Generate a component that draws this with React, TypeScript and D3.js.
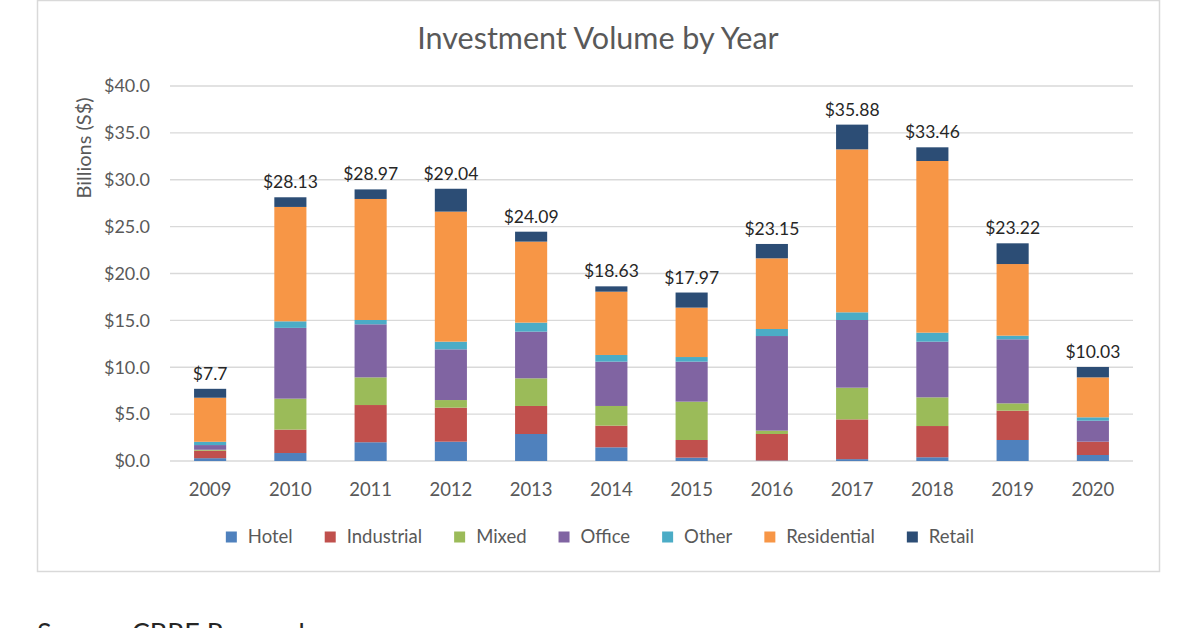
import React, { useEffect, useRef } from "react";
import * as d3 from "d3";

const years = ["2009","2010","2011","2012","2013","2014","2015","2016","2017","2018","2019","2020"];
const seriesNames = ["Hotel","Industrial","Mixed","Office","Other","Residential","Retail"];
const seriesColors = ["#4F81BD","#C0504D","#9BBB59","#8064A2","#4BACC6","#F79646","#2C4D75"];
const hotel =       [0.30, 0.85, 2.00, 2.06, 2.88, 1.46, 0.36, 0.05, 0.20, 0.40, 2.24, 0.64];
const industrial =  [0.80, 2.50, 3.97, 3.63, 2.99, 2.31, 1.88, 2.83, 4.24, 3.33, 3.13, 1.42];
const mixed =       [0.10, 3.30, 2.95, 0.81, 2.95, 2.10, 4.09, 0.36, 3.38, 3.06, 0.78, 0.00];
const office =      [0.50, 7.55, 5.66, 5.41, 4.98, 4.73, 4.27,10.09, 7.22, 5.94, 6.83, 2.24];
const other =       [0.35, 0.70, 0.46, 0.82, 0.96, 0.71, 0.49, 0.75, 0.82, 0.96, 0.39, 0.36];
const residential = [4.70,12.20,12.91,13.87, 8.64, 6.75, 5.27, 7.54,17.38,18.31, 7.64, 4.26];
const retail =      [0.95, 1.03, 1.02, 2.44, 1.06, 0.57, 1.61, 1.53, 2.64, 1.46, 2.21, 1.11];
const totalLabels = ["$7.7","$28.13","$28.97","$29.04","$24.09","$18.63","$17.97","$23.15","$35.88","$33.46","$23.22","$10.03"];
const yTicks = [0, 5, 10, 15, 20, 25, 30, 35, 40];

const FONT = "Lato, 'Open Sans', sans-serif";

export default function App() {
  const ref = useRef<SVGSVGElement>(null);
  useEffect(() => {
    const svg = d3.select(ref.current);
    svg.selectAll("*").remove();
    const m = { left: 170, right: 1133, top: 86, bottom: 461 };

    // card
    svg.append("rect").attr("x", 37.5).attr("y", 0.5).attr("width", 1122).attr("height", 571)
      .attr("fill", "#fff").attr("stroke", "#d9d9d9").attr("stroke-width", 1.5);

    const table = years.map((y, i) => {
      const row: any = { year: y };
      const cols = [hotel, industrial, mixed, office, other, residential, retail];
      seriesNames.forEach((s, k) => (row[s] = cols[k][i]));
      return row;
    });
    const stacked = d3.stack().keys(seriesNames)(table);

    const x = d3.scaleBand().domain(years).range([m.left, m.right]).paddingInner(0.6).paddingOuter(0.3);
    const y = d3.scaleLinear().domain([0, 40]).range([m.bottom, m.top]);

    // gridlines
    svg.append("g").selectAll("line").data(yTicks).join("line")
      .attr("x1", m.left).attr("x2", m.right)
      .attr("y1", d => y(d)).attr("y2", d => y(d))
      .attr("stroke", "#d9d9d9").attr("stroke-width", 1.3);

    // y tick labels
    svg.append("g").selectAll("text").data(yTicks).join("text")
      .attr("x", 150).attr("y", d => y(d)).attr("dy", "0.35em")
      .attr("text-anchor", "end").attr("font-family", FONT).attr("font-size", 18)
      .attr("fill", "#595959").text(d => "$" + d.toFixed(1));

    // bars
    const g = svg.append("g");
    stacked.forEach((layer, k) => {
      g.append("g").attr("fill", seriesColors[k]).selectAll("rect").data(layer).join("rect")
        .attr("x", (d: any) => x(d.data.year)!)
        .attr("width", x.bandwidth())
        .attr("y", (d: any) => y(d[1]))
        .attr("height", (d: any) => Math.max(0, y(d[0]) - y(d[1])));
    });

    // total labels
    const top = stacked[stacked.length - 1];
    svg.append("g").selectAll("text").data(top).join("text")
      .attr("x", (d: any) => x(d.data.year)! + x.bandwidth() / 2)
      .attr("y", (d: any) => y(d[1]) - 9)
      .attr("text-anchor", "middle").attr("font-family", FONT).attr("font-size", 17.5)
      .attr("fill", "#262626").text((d, i) => totalLabels[i]);

    // x labels
    svg.append("g").selectAll("text").data(years).join("text")
      .attr("x", d => x(d)! + x.bandwidth() / 2).attr("y", 496)
      .attr("text-anchor", "middle").attr("font-family", FONT).attr("font-size", 18.5)
      .attr("fill", "#595959").text(d => d);

    // y axis title
    svg.append("text").attr("transform", `translate(91,148) rotate(-90)`)
      .attr("text-anchor", "middle").attr("font-family", FONT).attr("font-size", 20)
      .attr("fill", "#595959").text("Billions (S$)");

    // title
    svg.append("text").attr("x", 598).attr("y", 49).attr("text-anchor", "middle")
      .attr("font-family", FONT).attr("font-size", 30.5).attr("fill", "#595959")
      .text("Investment Volume by Year");

    // legend
    const LF = 18.5;
    const canvas = document.createElement("canvas");
    const ctx = canvas.getContext("2d")!;
    ctx.font = `${LF}px Lato`;
    const sq = 11, gapSq = 11, gapItem = 32;
    const widths = seriesNames.map(s => ctx.measureText(s).width);
    const total = widths.reduce((a, w) => a + sq + gapSq + w, 0) + gapItem * (seriesNames.length - 1);
    let lx = 600 - total / 2;
    const ly = 537;
    seriesNames.forEach((s, k) => {
      svg.append("rect").attr("x", lx).attr("y", ly - sq / 2).attr("width", sq).attr("height", sq)
        .attr("fill", seriesColors[k]);
      svg.append("text").attr("x", lx + sq + gapSq).attr("y", ly).attr("dy", "0.35em")
        .attr("font-family", FONT).attr("font-size", LF).attr("fill", "#595959").text(s);
      lx += sq + gapSq + widths[k] + gapItem;
    });

    // source (cut off by the bottom edge, as in the reference)
    svg.append("text").attr("x", 37).attr("y", 643).attr("font-family", FONT)
      .attr("font-size", 27).attr("fill", "#262626").text("Source: CBRE Research");
  }, []);
  return (
    <svg ref={ref} width={1200} height={628}
      style={{ position: "absolute", left: 0, top: 0, background: "#fff" }} />
  );
}
